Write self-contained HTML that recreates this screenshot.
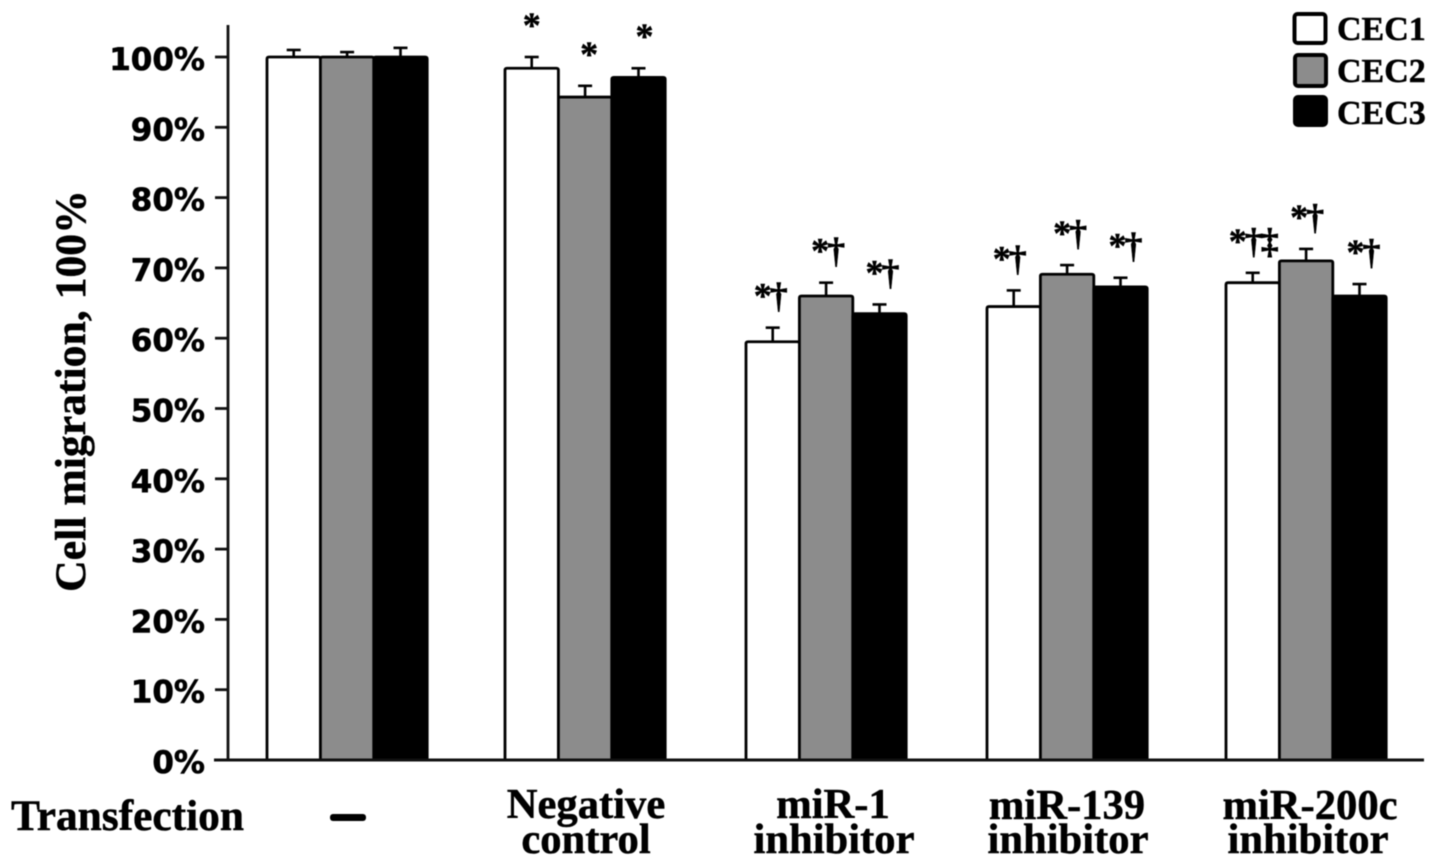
<!DOCTYPE html>
<html lang="en">
<head>
<meta charset="utf-8">
<title>Cell migration chart</title>
<style>
html,body{margin:0;padding:0;background:#fff;}
svg{display:block;filter:blur(0.4px);}
.tick{font-family:"DejaVu Sans",sans-serif;font-weight:bold;font-size:31px;text-anchor:end;fill:#000;stroke:#000;stroke-width:0.6px;}
.serif{font-family:"Liberation Serif",serif;font-weight:bold;fill:#000;stroke:#000;stroke-width:0.5px;}
</style>
</head>
<body>
<svg id="chart" xmlns="http://www.w3.org/2000/svg" width="1441" height="867" viewBox="0 0 1441 867">
  <rect x="0" y="0" width="1441" height="867" fill="#fff"/>
  <g id="bars"></g>
  <g id="axes"></g>
  <g id="marks"></g>

  <text class="serif" font-size="43.7" text-anchor="middle" transform="translate(85,391) rotate(-90)">Cell migration, 100%</text>

  <text class="serif" font-size="43.4" x="11" y="830">Transfection</text>
  <rect x="330" y="814" width="36" height="7" rx="3" fill="#000"/>

  <g>
    <rect x="1294.5" y="14" width="31" height="29" rx="3" fill="#fff" stroke="#000" stroke-width="4"/>
    <text class="serif" font-size="34" x="1337" y="40">CEC1</text>
    <rect x="1295" y="55" width="31" height="31" rx="3" fill="#8c8c8c" stroke="#000" stroke-width="4"/>
    <text class="serif" font-size="34" x="1337" y="82">CEC2</text>
    <rect x="1295" y="97" width="31" height="28" rx="3" fill="#000" stroke="#000" stroke-width="4"/>
    <text class="serif" font-size="34" x="1337" y="124">CEC3</text>
  </g>

  <g>
    <text class="serif" font-size="42.6" text-anchor="middle">
      <tspan x="586" y="818">Negative</tspan><tspan x="586" y="853">control</tspan>
    </text>
    <text class="serif" font-size="42.6" text-anchor="middle">
      <tspan x="833" y="818">miR-1</tspan><tspan x="834" y="853">inhibitor</tspan>
    </text>
    <text class="serif" font-size="42.6" text-anchor="middle">
      <tspan x="1067" y="819">miR-139</tspan><tspan x="1068" y="853">inhibitor</tspan>
    </text>
    <text class="serif" font-size="42.6" text-anchor="middle">
      <tspan x="1310" y="819">miR-200c</tspan><tspan x="1308" y="853">inhibitor</tspan>
    </text>
  </g>
</svg>

<script>
// ---- chart data ----
const categories = ['None', 'Negative control', 'miR-1 inhibitor', 'miR-139 inhibitor', 'miR-200c inhibitor'];
const tickLabels = ['0%', '10%', '20%', '30%', '40%', '50%', '60%', '70%', '80%', '90%', '100%'];
const tickValues = [0, 10, 20, 30, 40, 50, 60, 70, 80, 90, 100];
const seriesNames = ['CEC1', 'CEC2', 'CEC3'];
const cec1Values = [100, 98.4, 59.5, 64.5, 67.9];
const cec2Values = [100, 94.3, 66.0, 69.1, 71.0];
const cec3Values = [100, 97.1, 63.5, 67.3, 66.0];
const cec1Errors = [1.0, 1.6, 2.0, 2.3, 1.4];
const cec2Errors = [0.7, 1.6, 1.9, 1.3, 1.7];
const cec3Errors = [1.3, 1.3, 1.3, 1.3, 1.7];
const cec1Marks = ['', '*', '*†', '*†', '*†‡'];
const cec2Marks = ['', '*', '*†', '*†', '*†'];
const cec3Marks = ['', '*', '*†', '*†', '*†'];

// ---- layout ----
const plotTop = 57, plotBottom = 760, axisX = 228, axisEnd = 1424;
const groupLeft = [267, 505, 746, 987, 1226];
const barWidth = 53.4;
const fills = ['#fff', '#8c8c8c', '#000'];
const markNudgeX = [[0, 0, 0], [-1, 3, 5], [-3, 1, 2], [-5, 2, 4], [-1, 0, 3]];
const NS = 'http://www.w3.org/2000/svg';

function yScale(v) { return plotBottom - (v / 100) * (plotBottom - plotTop); }
function xScale(g, s) { return groupLeft[g] + s * barWidth; }
function slug(t) { return t.toLowerCase().replace(/[^a-z0-9]+/g, '-'); }
function make(tag, attrs, parent) {
  const el = document.createElementNS(NS, tag);
  for (const k in attrs) el.setAttribute(k, attrs[k]);
  parent.appendChild(el);
  return el;
}

const barsG = document.getElementById('bars');
const axesG = document.getElementById('axes');
const marksG = document.getElementById('marks');
const allValues = [cec1Values, cec2Values, cec3Values];
const allErrors = [cec1Errors, cec2Errors, cec3Errors];
const allMarks = [cec1Marks, cec2Marks, cec3Marks];

categories.forEach(function (cat, g) {
  seriesNames.forEach(function (name, s) {
    const x = xScale(g, s);
    const top = yScale(allValues[s][g]);
    const errTop = yScale(allValues[s][g] + allErrors[s][g]);
    const cx = x + barWidth / 2;
    const id = slug(cat) + '-' + name.toLowerCase();

    const line = make('line', { x1: cx, x2: cx, y1: top, y2: errTop, stroke: '#000', 'stroke-width': 2.6 }, barsG);
    
    

    const cap = make('line', { x1: cx - 7, x2: cx + 7, y1: errTop, y2: errTop, stroke: '#000', 'stroke-width': 2.6 }, barsG);
    
    

    const bar = make('path', {
      d: 'M' + x + ' ' + plotBottom + 'V' + (top + 2) + 'Q' + x + ' ' + top + ' ' + (x + 2) + ' ' + top +
         'H' + (x + barWidth - 2) + 'Q' + (x + barWidth) + ' ' + top + ' ' + (x + barWidth) + ' ' + (top + 2) + 'V' + plotBottom,
      fill: fills[s], stroke: '#000', 'stroke-width': 2.8
    }, barsG);
    
    

    const markText = allMarks[s][g];
    if (markText) {
      const mx = cx + markNudgeX[g][s];
      const my = errTop - 36;
      const t = make('text', { 'class': 'serif', 'font-size': 36, y: my + 16, 'letter-spacing': -2 }, marksG);
      
      
      t.setAttribute('x', mx);
      t.setAttribute('text-anchor', markText.length === 3 ? 'start' : 'middle');
      if (markText.length === 3) t.setAttribute('x', mx - 23);
      t.textContent = markText;
    }
  });
});

const yAxis = make('line', { x1: axisX, x2: axisX, y1: 25, y2: plotBottom + 1.5, stroke: '#111', 'stroke-width': 2.8 }, axesG);



const xAxis = make('line', { x1: 214, x2: axisEnd, y1: plotBottom, y2: plotBottom, stroke: '#111', 'stroke-width': 3 }, axesG);



tickValues.forEach(function (v, i) {
  const y = yScale(v);
  const tick = make('line', { x1: 215, x2: axisX, y1: y, y2: y, stroke: '#111', 'stroke-width': 2.8 }, axesG);
  
  

  const label = make('text', { 'class': 'tick', x: 205, y: y + 13 }, axesG);
  
  
  label.textContent = tickLabels[i];
});
</script>
</body>
</html>
